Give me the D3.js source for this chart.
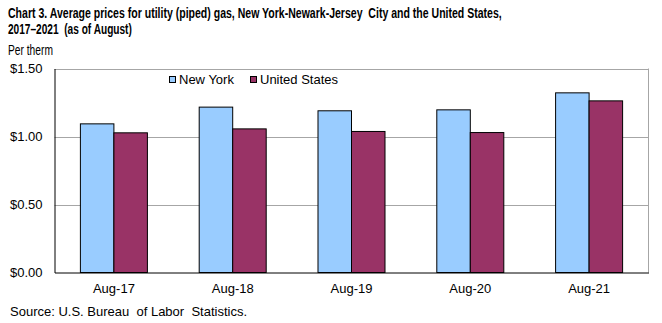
<!DOCTYPE html>
<html><head><meta charset="utf-8">
<script src="https://cdn.jsdelivr.net/npm/d3@7"></script>
<style>
body{margin:0;background:#fff;}
svg{display:block;}
text{white-space:pre;}
.narrow{font-family:"Liberation Sans Narrow","Arial Narrow","Liberation Sans",Arial,sans-serif;}
.reg{font-family:"Liberation Sans",Arial,sans-serif;}
</style></head>
<body><svg id="c" width="662" height="323"></svg>
<script>
const categories = ["Aug-17","Aug-18","Aug-19","Aug-20","Aug-21"];
const seriesNames = ["New York","United States"];
const newYork = [1.093,1.216,1.189,1.196,1.321];
const unitedStates = [1.027,1.056,1.037,1.029,1.262];
const yTicks = [0,0.5,1.0,1.5];
const colors = ["#99CCFF","#993366"];

const svg = d3.select("#c");
const m = {l:54.5,r:648.5,t:68.5,b:272.5};
const x = d3.scaleBand().domain(categories).range([m.l,m.r]).paddingInner(0.436).paddingOuter(0.218);
const xs = d3.scaleBand().domain(seriesNames).range([0,x.bandwidth()]);
const y = d3.scaleLinear().domain([0,1.5]).range([m.b,m.t]);

// condensed text helper: draws at origin then scales horizontally to a target width
function narrowText(str, tx, ty, size, bold, width){
  const g = svg.append("g");
  const t = g.append("text").attr("class","narrow").attr("font-size",size+"px")
    .attr("font-weight",bold?"bold":"normal").attr("fill","#000").attr("x",0).attr("y",0).text(str);
  const w = t.node().getComputedTextLength();
  const s = Math.min(1, width / w);
  g.attr("transform",`translate(${tx},${ty}) scale(${s},1)`);
}
narrowText("Chart 3. Average prices for utility (piped) gas, New York-Newark-Jersey  City and the United States,", 8, 18, 15, true, 494);
narrowText("2017\u20132021  (as of August)", 8, 34, 15, true, 124);
narrowText("Per therm", 8, 55, 14, false, 45);

// gridlines
svg.append("g").selectAll("line").data(yTicks.filter(d=>d>0)).join("line")
  .attr("x1",m.l).attr("x2",m.r).attr("y1",d=>Math.round(y(d))+0.5).attr("y2",d=>Math.round(y(d))+0.5)
  .attr("stroke","#A6A6A6").attr("stroke-width",1);
svg.append("line").attr("x1",m.r).attr("x2",m.r).attr("y1",m.t).attr("y2",m.b).attr("stroke","#A6A6A6");

// bars
const data = categories.map((c,i)=>({c, vals:[newYork[i],unitedStates[i]]}));
svg.append("g").selectAll("g").data(data).join("g")
  .attr("transform",d=>`translate(${x(d.c)},0)`)
  .selectAll("rect").data(d=>d.vals.map((v,j)=>({v,s:seriesNames[j],j})))
  .join("rect")
  .attr("x",d=>xs(d.s)).attr("width",xs.bandwidth())
  .attr("y",d=>y(d.v)).attr("height",d=>m.b-y(d.v))
  .attr("fill",d=>colors[d.j]).attr("stroke","#000").attr("stroke-width",1);

// axes
const ya = d3.axisLeft(y).tickValues(yTicks).tickSize(0).tickPadding(12).tickFormat(d=>"$"+d.toFixed(2));
svg.append("g").attr("transform",`translate(${m.l},0)`).call(ya)
  .call(g=>g.select(".domain").attr("stroke","#000"))
  .call(g=>g.selectAll("text").attr("class","reg").attr("font-size","13px").attr("fill","#000"));
const xa = d3.axisBottom(x).tickSize(0).tickPadding(11);
svg.append("g").attr("transform",`translate(0,${m.b})`).call(xa)
  .call(g=>g.select(".domain").attr("stroke","#000"))
  .call(g=>g.selectAll("text").attr("class","reg").attr("font-size","13px").attr("fill","#000"));

// legend
const lg = svg.append("g").attr("class","reg");
const lx = [169.5,250.5];
seriesNames.forEach((s,i)=>{
  lg.append("rect").attr("x",lx[i]).attr("y",76.5).attr("width",6).attr("height",6).attr("fill",colors[i]).attr("stroke","#000");
  lg.append("text").attr("x",lx[i]+9.5).attr("y",84).attr("font-size","13px").attr("fill","#000").text(s);
});

// source
svg.append("text").attr("class","reg").attr("x",10).attr("y",316).attr("font-size","13px").text("Source: U.S. Bureau  of Labor  Statistics.");
</script></body></html>
